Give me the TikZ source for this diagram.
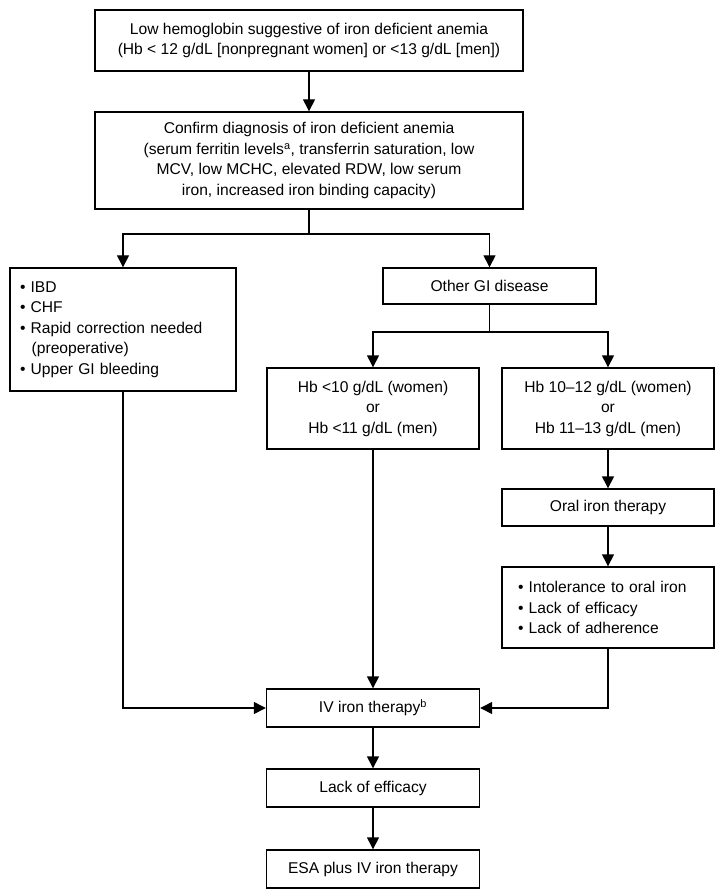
\documentclass[tikz,border=0pt]{standalone}
\usepackage{fontspec}
\setmainfont{Liberation Sans}
\usetikzlibrary{arrows.meta}
\begin{document}
\begin{tikzpicture}[x=1pt,y=-1pt,
  box/.style={draw, line width=1.4pt, rectangle, inner sep=0pt, align=center,
    font=\fontsize{15.6}{20.5}\selectfont},
  lbox/.style={box, align=left},
  arr/.style={line width=1.4pt, -{Triangle[length=12pt,width=12pt]}},
  ln/.style={line width=1.4pt}]
\useasboundingbox (0,0) rectangle (725,890);
% boxes
\node[box, minimum width=428, minimum height=61] (b1) at (309,40.5)
  {Low hemoglobin suggestive of iron deficient anemia\\(Hb < 12 g/dL [nonpregnant women] or <13 g/dL [men])};
\node[box, minimum width=428, minimum height=97] (b2) at (309,160.5)
  {Confirm diagnosis of iron deficient anemia\\(serum ferritin levels\textsuperscript{a}, transferrin saturation, low\\MCV, low MCHC, elevated RDW, low serum\\iron, increased iron binding capacity)};
\node[lbox, minimum width=226, minimum height=123, text width=206] (lb) at (123,329.5)
  {\textbullet\ IBD\\\textbullet\ CHF\\\textbullet\ Rapid correction needed\\\hspace*{0.75em}(preoperative)\\\textbullet\ Upper GI bleeding};
\node[box, minimum width=213, minimum height=36] (og) at (489.5,286) {Other GI disease};
\node[box, minimum width=212, minimum height=81] (h1) at (373,408.5)
  {Hb <10 g/dL (women)\\or\\Hb <11 g/dL (men)};
\node[box, minimum width=212, minimum height=81] (h2) at (608,408.5)
  {Hb 10–12 g/dL (women)\\or\\Hb 11–13 g/dL (men)};
\node[box, minimum width=212, minimum height=37] (oi) at (608,507.5) {Oral iron therapy};
\node[lbox, minimum width=212, minimum height=81, text width=180] (bb) at (608,607.5)
  {\textbullet\ Intolerance to oral iron\\\textbullet\ Lack of efficacy\\\textbullet\ Lack of adherence};
\node[box, minimum width=213, minimum height=38] (iv) at (373,708) {IV iron therapy\textsuperscript{b}};
\node[box, minimum width=213, minimum height=38] (lk) at (373,788) {Lack of efficacy};
\node[box, minimum width=213, minimum height=38] (esa) at (373,869) {ESA plus IV iron therapy};
% junctions
\coordinate (j1) at (309,234);
\coordinate (j2) at (489.5,332);
% connectors
\draw[arr] (b1) -- (b2);
\draw[ln] (b2.south) -- (j1);
\draw[arr] (j1) -| (lb.north);
\draw[arr] (j1) -| (og.north);
\draw[ln] (og.south) -- (j2);
\draw[arr] (j2) -| (h1.north);
\draw[arr] (j2) -| (h2.north);
\draw[arr] (h1) -- (iv);
\draw[arr] (h2) -- (oi);
\draw[arr] (oi) -- (bb);
\draw[arr] (lb.south) |- (iv.west);
\draw[arr] (bb.south) |- (iv.east);
\draw[arr] (iv) -- (lk);
\draw[arr] (lk) -- (esa);
\end{tikzpicture}
\end{document}
